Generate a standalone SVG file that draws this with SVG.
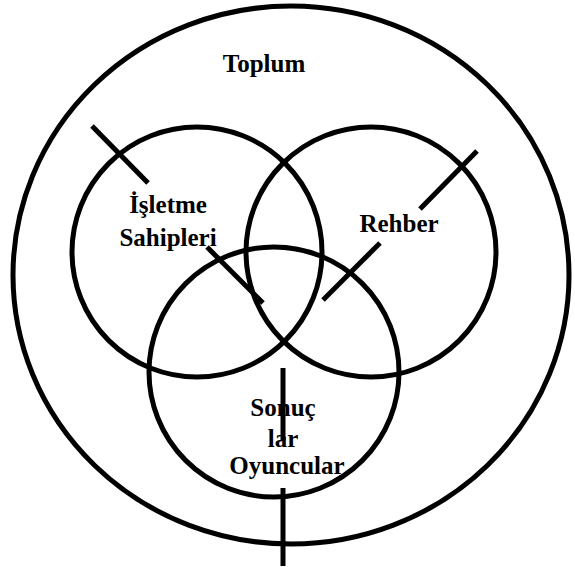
<svg xmlns="http://www.w3.org/2000/svg" width="575" height="567" viewBox="0 0 575 567">
<style>
.c{fill:none;stroke:#000;stroke-width:5}
.l{stroke:#000;stroke-width:5;fill:none}
.t{font-family:"Liberation Serif","Times New Roman",serif;font-weight:bold;font-size:25px;fill:#000;text-anchor:middle}
</style>
<rect width="575" height="567" fill="#fff"/>
<g id="toplum">
<ellipse class="c" cx="291" cy="275" rx="278" ry="269"/>
<text class="t" x="264" y="72">Toplum</text>
</g>
<g id="isletme">
<circle class="c" cx="197" cy="252" r="125"/>
<text class="t" x="168" y="213">İşletme</text>
<text class="t" x="168" y="246">Sahipleri</text>
</g>
<g id="rehber">
<circle class="c" cx="371" cy="252" r="125"/>
<text class="t" x="399" y="232">Rehber</text>
</g>
<g id="oyuncular">
<circle class="c" cx="274" cy="372" r="125"/>
<text class="t" x="283" y="416">Sonuç</text>
<text class="t" x="283" y="447">lar</text>
<text class="t" x="287" y="474">Oyuncular</text>
</g>
<g id="connectors">
<line class="l" x1="92" y1="126" x2="148" y2="183"/>
<line class="l" x1="477" y1="151" x2="420" y2="209"/>
<line class="l" x1="207" y1="247" x2="263" y2="303"/>
<line class="l" x1="380" y1="243" x2="323" y2="300"/>
<line class="l" x1="283" y1="368" x2="283" y2="440"/>
<line class="l" x1="283" y1="488" x2="283" y2="566"/>
</g>
</svg>
